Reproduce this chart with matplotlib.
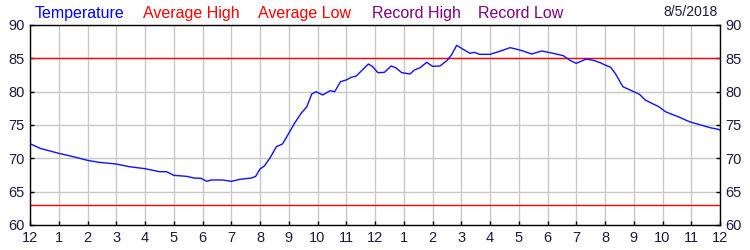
import matplotlib
matplotlib.use("Agg")
import matplotlib.pyplot as plt

# hours since midnight and temperature (°F)
hours = [0.0, 0.35, 1.0, 1.5, 2.0, 2.4, 3.0, 3.45, 4.0, 4.5, 4.75, 5.0, 5.45, 5.7, 5.95,
         6.15, 6.3, 6.7, 7.0, 7.3, 7.71, 7.85, 8.0, 8.15, 8.34, 8.57, 8.78, 9.0, 9.2,
         9.43, 9.63, 9.8, 9.95, 10.18, 10.44, 10.6, 10.8, 11.0, 11.17, 11.35, 11.5,
         11.77, 11.92, 12.1, 12.33, 12.56, 12.72, 12.93, 13.22, 13.37, 13.57, 13.8,
         14.0, 14.26, 14.51, 14.66, 14.84, 15.07, 15.3, 15.45, 15.64, 16.0, 16.3,
         16.7, 16.9, 17.15, 17.45, 17.8, 18.03, 18.3, 18.55, 18.78, 19.0, 19.35,
         19.6, 19.83, 20.0, 20.2, 20.37, 20.5, 20.62, 21.0, 21.2, 21.4, 21.63,
         21.87, 22.1, 22.33, 22.6, 22.8, 23.0, 23.3, 23.65, 23.95, 24.0]
temps = [72.2, 71.5, 70.75, 70.25, 69.7, 69.4, 69.15, 68.75, 68.45, 68.0, 68.0, 67.45,
         67.3, 67.05, 67.0, 66.55, 66.75, 66.75, 66.55, 66.85, 67.05, 67.3, 68.4, 68.85,
         70.0, 71.75, 72.15, 73.75, 75.25, 76.75, 77.75, 79.65, 80.0, 79.5, 80.15,
         80.0, 81.5, 81.75, 82.15, 82.35, 83.0, 84.15, 83.75, 82.85, 82.9, 83.85, 83.6,
         82.85, 82.65, 83.25, 83.6, 84.4, 83.8, 83.85, 84.7, 85.5, 86.95, 86.35,
         85.75, 85.9, 85.6, 85.6, 86.0, 86.6, 86.4, 86.1, 85.65, 86.1, 85.9, 85.65,
         85.4, 84.7, 84.25, 84.9, 84.7, 84.35, 84.0, 83.65, 82.65, 81.65, 80.75,
         80.0, 79.6, 78.75, 78.25, 77.75, 77.0, 76.6, 76.15, 75.75, 75.4, 75.05,
         74.6, 74.35, 74.2]

avg_high = 85
avg_low = 63
xtick_labels = ["12", "1", "2", "3", "4", "5", "6", "7", "8", "9", "10", "11",
                "12", "1", "2", "3", "4", "5", "6", "7", "8", "9", "10", "11", "12"]
yticks = [60, 65, 70, 75, 80, 85, 90]
legend_items = [("Temperature", "#0000ff"), ("Average High", "#ff0000"),
                ("Average Low", "#ff0000"), ("Record High", "#800080"),
                ("Record Low", "#800080")]
date_label = "8/5/2018"

plt.rcParams['font.family'] = ['Liberation Sans', 'DejaVu Sans']
label_color = "#1a1a40"

fig = plt.figure(figsize=(7.5, 2.5), dpi=100)
ax = fig.add_axes([30 / 750, 25 / 250, 690 / 750, 200 / 250])

ax.plot(hours, temps, color="#1010ff", lw=1.0, zorder=3)
ax.axhline(avg_high, color="#ff0000", lw=1.0, zorder=2)
ax.axhline(avg_low, color="#ff0000", lw=1.0, zorder=2)

ax.set_xlim(0, 24)
ax.set_ylim(60, 90)
ax.set_xticks(range(25))
ax.set_xticklabels(xtick_labels)
ax.set_yticks(yticks)
ax.grid(True, color="#c8c8c8", lw=1.0, zorder=0)
ax.set_axisbelow(True)
ax.tick_params(axis="both", direction="in", length=3, width=1, color="black",
               labelsize=10.5, labelcolor=label_color, pad=3)
ax.tick_params(axis="y", right=True, labelright=True, left=True, labelleft=True, pad=4)
ax.tick_params(axis="x", top=False, pad=4)
for s in ax.spines.values():
    s.set_color("black")
    s.set_linewidth(1.0)

x_positions = [35, 143, 258, 372, 478]
for (txt, col), xp in zip(legend_items, x_positions):
    fig.text(xp / 750, 1 - 18 / 250, txt, color=col, fontsize=11.5,
             ha="left", va="baseline")
fig.text(718 / 750, 1 - 16 / 250, date_label, color=label_color, fontsize=10,
         ha="right", va="baseline")

fig.savefig("out.png", dpi=100)
